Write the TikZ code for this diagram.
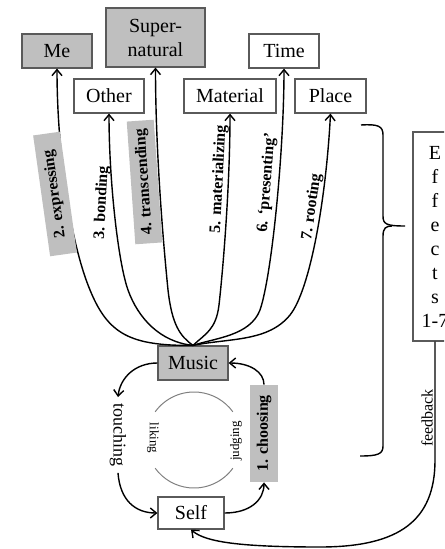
\documentclass[tikz,border=0pt]{standalone}
\usepackage{fontspec}
\setmainfont{Liberation Serif}
\usetikzlibrary{arrows.meta}
\definecolor{boxgray}{HTML}{BFBFBF}
\definecolor{edgegray}{HTML}{5A5A5A}
\tikzset{
  box/.style={draw=edgegray, line width=0.6pt, inner sep=0pt, align=center, font=\fontsize{10}{12}\selectfont},
  graybox/.style={box, fill=boxgray},
  arr/.style={-{Straight Barb[length=3pt,width=5pt]}, line width=0.7pt},
  lab/.style={inner sep=0pt, font=\bfseries\fontsize{8}{9.6}\selectfont},
  graylab/.style={lab, fill=boxgray, minimum height=13.5pt},
  conn/.style={line width=0.75pt}
}
\begin{document}
\begin{tikzpicture}[x=0.5pt,y=-0.5pt]
\useasboundingbox (0,0) rectangle (444,549);
\clip (0,0) rectangle (444,549);
% boxes
\node[graybox, minimum width=35pt, minimum height=17pt] (me) at (57,51) {Me};
\node[graybox, minimum width=49.5pt, minimum height=29.5pt] (super) at (155.5,37.5) {Super-\\natural};
\node[box, minimum width=35pt, minimum height=17pt] (other) at (109,96) {Other};
\node[box, minimum width=46pt, minimum height=17pt] (material) at (230,96) {Material};
\node[box, minimum width=35pt, minimum height=17pt] (time) at (284,51) {Time};
\node[box, minimum width=35.5pt, minimum height=17pt] (place) at (330.5,96) {Place};
\node[graybox, minimum width=35pt, minimum height=17pt] (music) at (193,363) {Music};
\node[box, minimum width=33pt, minimum height=16pt] (self) at (191,513) {Self};
\node[box, minimum width=22pt, minimum height=104.5pt] (effects) at (435,236.5) {E\\f\\f\\e\\c\\t\\s\\1-7};
% fan connectors
\draw[conn,arr] (music.north) .. controls (130,346) and (108,334) .. (90,290)
  .. controls (70,242) and (57,150) .. (me.south);
\draw[conn,arr] (music.north) .. controls (160,342) and (138,318) .. (128,290)
  .. controls (118,262) and (109,180) .. (other.south);
\draw[conn,arr] (music.north) .. controls (180,336) and (172,325) .. (168,290)
  .. controls (163,240) and (155.5,150) .. (super.south);
\draw[conn,arr] (music.north) .. controls (205,334) and (216,330) .. (219,305)
  .. controls (224,260) and (230,180) .. (material.south);
\draw[conn,arr] (music.north) .. controls (215,338) and (250,336) .. (260,310)
  .. controls (272,275) and (284,150) .. (time.south);
\draw[conn,arr] (music.north) .. controls (230,338) and (268,342) .. (290,315)
  .. controls (310,290) and (326,200) .. (place.south);
% fan labels
\node[graylab, minimum width=61pt, rotate=98] (l2) at (55,194) {2. expressing};
\node[lab, rotate=87] (l3) at (102,203) {3. bonding};
\node[graylab, minimum width=61.5pt, rotate=94] (l4) at (144.5,182) {4. transcending};
\node[lab, rotate=87] (l5) at (219,179) {5. materializing};
\node[lab, rotate=85.5] (l6) at (267,183) {6. `presenting'};
\node[lab, rotate=82] (l7) at (312,207) {7. rooting};
% cycle
\node[inner sep=3pt, rotate=-90, font=\fontsize{9}{11}\selectfont] (touching) at (118,435) {touching};
\node[graylab, minimum width=48.5pt, minimum height=14pt, rotate=90] (choosing) at (264,433.5) {1. choosing};
\node[inner sep=0pt, rotate=-90, font=\fontsize{6.5}{8}\selectfont] (liking) at (153,438) {liking};
\node[inner sep=0pt, rotate=90, font=\fontsize{6.5}{8}\selectfont] (judging) at (236,441) {judging};
\draw[gray, line width=0.5pt] (194,440) ++(36:48) arc[start angle=36, end angle=144, radius=48];
\draw[gray, line width=0.5pt] (194,440) ++(216:48) arc[start angle=216, end angle=324, radius=48];
\draw[conn,arr] (music.west) .. controls (135,363) and (120,378) .. (touching.west);
\draw[conn,arr] (touching.east) .. controls (120,500) and (135,513) .. (self.west);
\draw[conn,arr] (self.east) .. controls (250,513) and (264,500) .. (choosing.west);
\draw[conn,arr] (choosing.east) .. controls (264,372) and (250,363) .. (music.east);
% brace
\draw[line width=0.7pt] (361,125) .. controls (378,124) and (383,126) .. (383,135) -- (383,216)
  .. controls (383,224) and (386,226) .. (405,226);
\draw[line width=0.7pt] (392,226) .. controls (386,226) and (383,228) .. (383,236) -- (383,446)
  .. controls (383,454) and (378,456) .. (360,456);
% feedback
\node[inner sep=0pt, rotate=90, font=\fontsize{8}{10}\selectfont] (feedback) at (427,418) {feedback};
\draw[conn,arr] (effects.south) -- (435,460) .. controls (435,520) and (400,547) .. (320,547)
  .. controls (240,547) and (205,542) .. (self.south);
\end{tikzpicture}
\end{document}
